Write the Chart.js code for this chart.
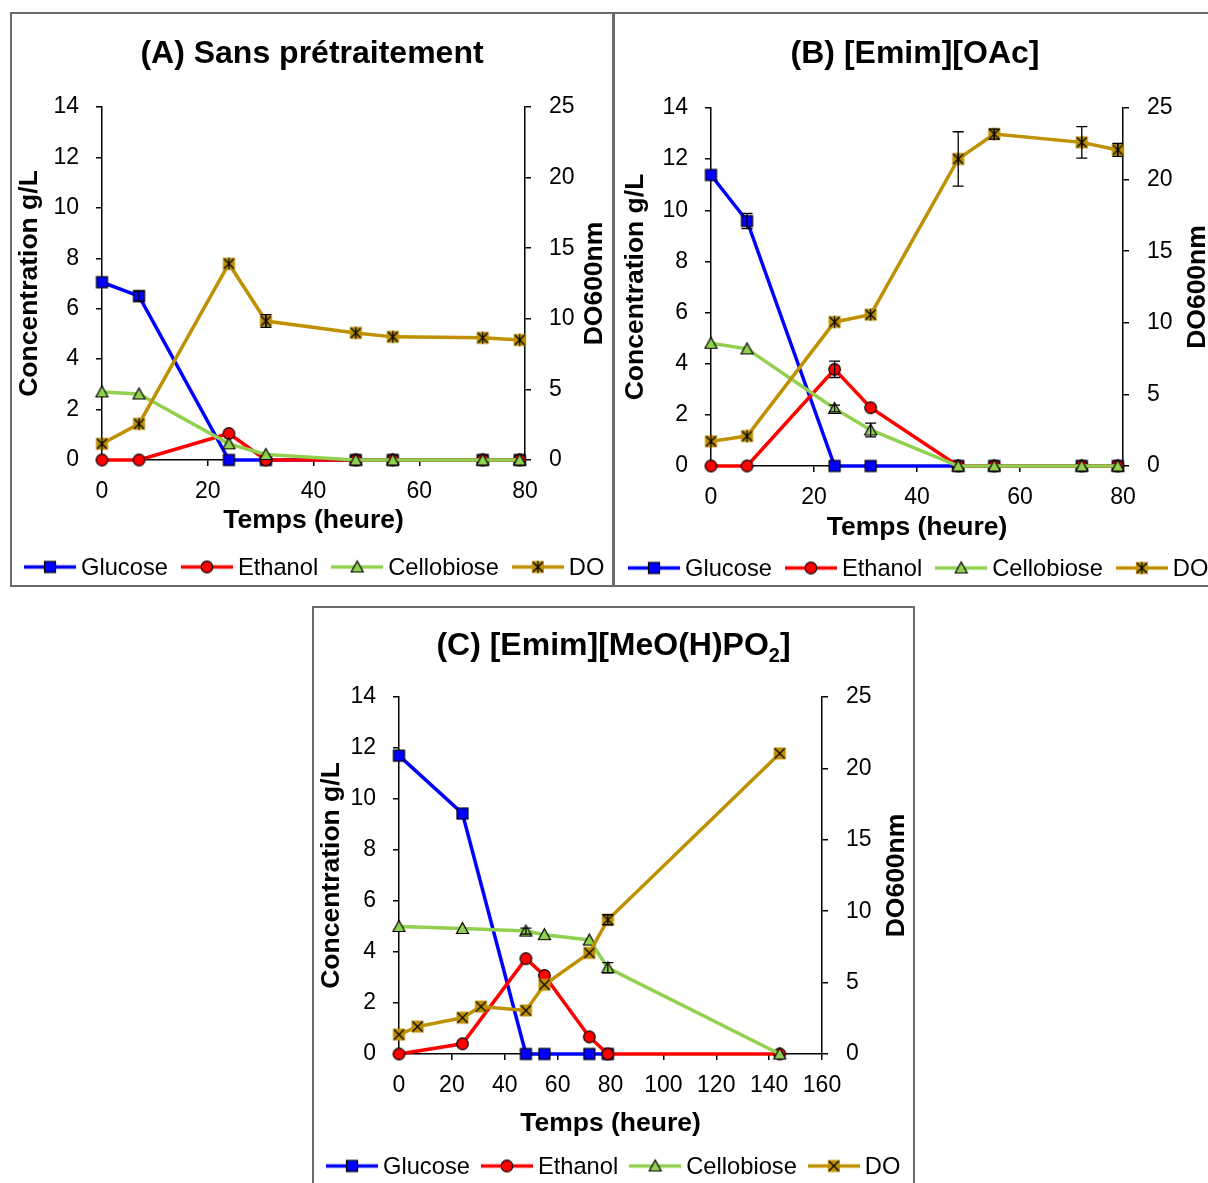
<!DOCTYPE html>
<html>
<head>
<meta charset="utf-8">
<script src="https://cdn.jsdelivr.net/npm/chart.js@4.4.1/dist/chart.umd.min.js"></script>
<style>
html, body { margin: 0; padding: 0; background: #fff; width: 1208px; height: 1183px; overflow: hidden; }
.panel { position: absolute; outline: 2px solid #6a6a6a; outline-offset: -2px; background: #fff; }
.panel canvas { display: block; }
</style>
</head>
<body>
<div class="panel" style="left:10px;top:12px;width:604px;height:575px"><canvas id="cA" width="604" height="575"></canvas></div>
<div class="panel" style="left:613px;top:12px;width:604px;height:575px"><canvas id="cB" width="604" height="575"></canvas></div>
<div class="panel" style="left:312px;top:606px;width:603px;height:580px"><canvas id="cC" width="603" height="580"></canvas></div>
<script>
// ---- data ----
const LABELS = ['Glucose', 'Ethanol', 'Cellobiose', 'DO'];
const COLORS = ['#0000ff', '#ff0000', '#92d050', '#bf9000'];

const TIMES_AB = [0, 7, 24, 31, 48, 55, 72, 79];

// (A) Sans prétraitement
const A_GLUCOSE = [7.05, 6.5, 0, 0, 0, 0, 0, 0];
const A_GLUCOSE_ERR = [0, 0.2, 0, 0, 0, 0, 0, 0];
const A_ETHANOL = [0, 0, 1.05, 0, 0, 0, 0, 0];
const A_CELLOBIOSE = [2.7, 2.62, 0.64, 0.22, 0, 0, 0, 0];
const A_DO = [1.15, 2.56, 13.9, 9.84, 9.0, 8.72, 8.65, 8.5];
const A_DO_ERR = [0, 0, 0, 0.45, 0, 0, 0, 0];

// (B) [Emim][OAc]
const B_GLUCOSE = [11.38, 9.58, 0, 0, 0, 0, 0, 0];
const B_GLUCOSE_ERR = [0, 0.3, 0, 0, 0, 0, 0, 0];
const B_ETHANOL = [0, 0, 3.78, 2.28, 0, 0, 0, 0];
const B_ETHANOL_ERR = [0, 0, 0.32, 0, 0, 0, 0, 0];
const B_CELLOBIOSE = [4.8, 4.58, 2.25, 1.41, 0, 0, 0, 0];
const B_CELLOBIOSE_ERR = [0, 0, 0.13, 0.27, 0, 0, 0, 0];
const B_DO = [1.72, 2.09, 10.06, 10.57, 21.44, 23.18, 22.6, 22.07];
const B_DO_ERR = [0, 0, 0, 0, 1.9, 0.35, 1.1, 0.45];

// (C) [Emim][MeO(H)PO2]
const C_GLUCOSE_T = [0, 24, 48, 55, 72, 79];
const C_GLUCOSE = [11.7, 9.43, 0, 0, 0, 0];
const C_ETHANOL_T = [0, 24, 48, 55, 72, 79, 144];
const C_ETHANOL = [0, 0.4, 3.74, 3.08, 0.67, 0, 0];
const C_CELLOBIOSE_T = [0, 24, 48, 55, 72, 79, 144];
const C_CELLOBIOSE = [5.0, 4.92, 4.82, 4.68, 4.47, 3.38, 0];
const C_CELLOBIOSE_ERR = [0, 0, 0.12, 0, 0, 0.2, 0];
const C_DO_T = [0, 7, 24, 31, 48, 55, 72, 79, 144];
const C_DO = [1.36, 1.92, 2.54, 3.32, 3.05, 4.85, 7.08, 9.4, 21.05];
const C_DO_ERR = [0, 0, 0, 0, 0, 0, 0, 0.35, 0];

const Y_TICKS = [0, 2, 4, 6, 8, 10, 12, 14];
const Y2_TICKS = [0, 5, 10, 15, 20, 25];

const FONT = '"Liberation Sans", Arial, sans-serif';
Chart.defaults.font.family = FONT;
Chart.defaults.color = '#000';

// markers: 0 square, 1 circle, 2 triangle, 3 gold box with cross / star
function markerCanvas(k, doStyle, legend) {
    const w = legend ? 52 : 17, h = 17;
    const c = document.createElement('canvas');
    c.width = w; c.height = h;
    const g = c.getContext('2d');
    const cx = w / 2, cy = h / 2;
    if (legend) {
        g.strokeStyle = COLORS[k];
        g.lineWidth = 3.5;
        g.beginPath(); g.moveTo(0, cy); g.lineTo(w, cy); g.stroke();
    }
    g.strokeStyle = '#000';
    g.lineWidth = 1.2;
    if (k === 0) {
        g.fillStyle = COLORS[0];
        g.fillRect(cx - 5.5, cy - 5.5, 11, 11);
        g.strokeRect(cx - 5.5, cy - 5.5, 11, 11);
    } else if (k === 1) {
        g.fillStyle = COLORS[1];
        g.beginPath(); g.arc(cx, cy, 5.8, 0, Math.PI * 2); g.fill(); g.stroke();
    } else if (k === 2) {
        g.fillStyle = COLORS[2];
        g.beginPath();
        g.moveTo(cx, cy - 6); g.lineTo(cx + 6, cy + 5); g.lineTo(cx - 6, cy + 5);
        g.closePath(); g.fill(); g.stroke();
    } else {
        g.fillStyle = COLORS[3];
        g.fillRect(cx - 6, cy - 6, 12, 12);
        g.lineWidth = 1.2;
        g.beginPath();
        g.moveTo(cx - 5, cy - 5); g.lineTo(cx + 5, cy + 5);
        g.moveTo(cx + 5, cy - 5); g.lineTo(cx - 5, cy + 5);
        if (doStyle === 'star') { g.moveTo(cx, cy - 6); g.lineTo(cx, cy + 6); }
        g.stroke();
    }
    return c;
}

const errorBarsPlugin = {
    id: 'errorBars',
    afterDatasetsDraw(chart) {
        const { ctx } = chart;
        chart.data.datasets.forEach((ds, i) => {
            if (!ds.errors) return;
            const meta = chart.getDatasetMeta(i);
            const yScale = chart.scales[ds.yAxisID];
            ctx.save();
            ctx.strokeStyle = '#000';
            ctx.lineWidth = 1.3;
            meta.data.forEach((pt, j) => {
                const e = ds.errors[j];
                if (!e) return;
                const v = ds.data[j].y;
                const yt = yScale.getPixelForValue(v + e);
                const yb = yScale.getPixelForValue(Math.max(v - e, 0));
                ctx.beginPath();
                ctx.moveTo(pt.x, yt); ctx.lineTo(pt.x, yb);
                ctx.moveTo(pt.x - 5.5, yt); ctx.lineTo(pt.x + 5.5, yt);
                ctx.moveTo(pt.x - 5.5, yb); ctx.lineTo(pt.x + 5.5, yb);
                ctx.stroke();
            });
            ctx.restore();
        });
    }
};

// right axis title reads bottom to top, like the left one
const rightTitlePlugin = {
    id: 'rightTitle',
    afterDraw(chart, args, opts) {
        const { ctx, chartArea } = chart;
        ctx.save();
        ctx.translate(opts.x, (chartArea.top + chartArea.bottom) / 2);
        ctx.rotate(-Math.PI / 2);
        ctx.font = 'bold 26.5px ' + FONT;
        ctx.fillStyle = '#000';
        ctx.textAlign = 'center';
        ctx.textBaseline = 'middle';
        ctx.fillText(opts.text, 0, 0);
        ctx.restore();
    }
};

// title with a subscript part (PO2), only used where needed
const subTitlePlugin = {
    id: 'subTitle',
    afterDraw(chart, args, opts) {
        if (!opts.parts) return;
        const { ctx } = chart;
        const fontFor = p => p.sub ? 'bold 20px ' + FONT : 'bold 32px ' + FONT;
        ctx.save();
        ctx.fillStyle = '#000';
        ctx.textBaseline = 'alphabetic';
        let total = 0;
        opts.parts.forEach(p => { ctx.font = fontFor(p); total += ctx.measureText(p.text).width; });
        let x = chart.width / 2 - total / 2;
        opts.parts.forEach(p => {
            ctx.font = fontFor(p);
            ctx.fillText(p.text, x, opts.baseline + (p.sub ? 7 : 0));
            x += ctx.measureText(p.text).width;
        });
        ctx.restore();
    }
};

// Excel-style legend: line with marker, then label, all on one row
const lineLegendPlugin = {
    id: 'lineLegend',
    afterDraw(chart, args, opts) {
        const { ctx } = chart;
        ctx.save();
        ctx.font = opts.size + 'px ' + FONT;
        ctx.fillStyle = '#000';
        ctx.textBaseline = 'middle';
        let x = opts.x;
        LABELS.forEach((text, k) => {
            const img = markerCanvas(k, opts.doStyle, true);
            ctx.drawImage(img, x, opts.y - img.height / 2);
            x += img.width + opts.gapIn;
            ctx.fillText(text, x, opts.y + 1);
            x += ctx.measureText(text).width + opts.gapOut;
        });
        ctx.restore();
    }
};

function series(times, values, errors) {
    return { times, values, errors };
}

const PANELS = [
    {
        id: 'cA', title: '(A) Sans prétraitement', doStyle: 'star', xMax: 80,
        left: 92, right: 89, titlePad: { top: 22.8, bottom: 33.8 }, topPad: 0, bottomPad: 50.5,
        xHeight: 76.5, xTitlePad: 14.5, yTitlePad: 19, y2TitleX: 585,
        legend: { x: 14, y: 555, gapIn: 5, gapOut: 13 },
        series: [
            series(TIMES_AB, A_GLUCOSE, A_GLUCOSE_ERR),
            series(TIMES_AB, A_ETHANOL),
            series(TIMES_AB, A_CELLOBIOSE),
            series(TIMES_AB, A_DO, A_DO_ERR)
        ]
    },
    {
        id: 'cB', title: '(B) [Emim][OAc]', doStyle: 'star', xMax: 80,
        left: 98, right: 94, titlePad: { top: 22.8, bottom: 34.8 }, topPad: 0, bottomPad: 50.5,
        xHeight: 70.5, xTitlePad: 7.5, yTitlePad: 22, y2TitleX: 585,
        legend: { x: 15, y: 556, gapIn: 5, gapOut: 13 },
        series: [
            series(TIMES_AB, B_GLUCOSE, B_GLUCOSE_ERR),
            series(TIMES_AB, B_ETHANOL, B_ETHANOL_ERR),
            series(TIMES_AB, B_CELLOBIOSE, B_CELLOBIOSE_ERR),
            series(TIMES_AB, B_DO, B_DO_ERR)
        ]
    },
    {
        id: 'cC', title: null, doStyle: 'cross', xMax: 160,
        titleParts: [{ text: '(C) [Emim][MeO(H)PO' }, { text: '2', sub: true }, { text: ']' }],
        titleBaseline: 49,
        left: 87, right: 93, titlePad: { top: 0, bottom: 0 }, topPad: 91, bottomPad: 50.5,
        xHeight: 81.5, xTitlePad: 10.5, yTitlePad: 19, y2TitleX: 585,
        legend: { x: 14, y: 560, gapIn: 5, gapOut: 11 },
        series: [
            series(C_GLUCOSE_T, C_GLUCOSE),
            series(C_ETHANOL_T, C_ETHANOL),
            series(C_CELLOBIOSE_T, C_CELLOBIOSE, C_CELLOBIOSE_ERR),
            series(C_DO_T, C_DO, C_DO_ERR)
        ]
    }
];

function buildPanel(p) {
    const datasets = p.series.map((s, k) => ({
        label: LABELS[k],
        data: s.times.map((t, j) => ({ x: t, y: s.values[j] })),
        errors: s.errors,
        yAxisID: k === 3 ? 'y2' : 'y',
        borderColor: COLORS[k],
        backgroundColor: COLORS[k],
        borderWidth: 3.5,
        pointStyle: markerCanvas(k, p.doStyle, false),
        pointRadius: 6,
        tension: 0,
        clip: false,
        order: 4 - k
    }));

    const tickFont = { size: 23 };
    const axisTitleFont = { size: 26.5, weight: 'bold', lineHeight: '2px' };
    const axisBorder = { display: true, color: '#000', width: 1.5 };
    const grid = { drawOnChartArea: false, drawTicks: true, tickLength: 6, color: '#000', lineWidth: 1.5 };

    new Chart(document.getElementById(p.id), {
        type: 'line',
        data: { datasets },
        options: {
            responsive: false,
            animation: false,
            events: [],
            layout: { padding: { left: 0, right: 0, top: p.topPad, bottom: p.bottomPad } },
            scales: {
                x: {
                    type: 'linear', min: 0, max: p.xMax,
                    ticks: { stepSize: 20, font: tickFont, padding: 12, maxRotation: 0 },
                    grid, border: axisBorder,
                    title: { display: true, text: 'Temps (heure)', font: axisTitleFont, padding: { top: 0, bottom: p.xTitlePad } },
                    afterFit(scale) { scale.height = p.xHeight; }
                },
                y: {
                    type: 'linear', position: 'left', min: 0, max: 14,
                    afterBuildTicks(scale) { scale.ticks = Y_TICKS.map(v => ({ value: v })); },
                    ticks: { font: tickFont, padding: 17 },
                    grid, border: axisBorder,
                    title: { display: true, text: 'Concentration g/L', font: axisTitleFont, padding: { top: p.yTitlePad, bottom: 0 } },
                    afterFit(scale) { scale.width = p.left; }
                },
                y2: {
                    type: 'linear', position: 'right', min: 0, max: 25,
                    afterBuildTicks(scale) { scale.ticks = Y2_TICKS.map(v => ({ value: v })); },
                    ticks: { font: tickFont, padding: 18 },
                    grid, border: axisBorder,
                    afterFit(scale) { scale.width = p.right; }
                }
            },
            plugins: {
                title: {
                    display: !!p.title, text: p.title || '', color: '#000',
                    font: { size: 32, weight: 'bold', lineHeight: 1.2 },
                    padding: p.titlePad
                },
                legend: { display: false },
                tooltip: { enabled: false },
                subTitle: { parts: p.titleParts || null, baseline: p.titleBaseline || 0 },
                rightTitle: { x: p.y2TitleX, text: 'DO600nm' },
                lineLegend: Object.assign({ size: 23.7, doStyle: p.doStyle }, p.legend)
            }
        },
        plugins: [errorBarsPlugin, rightTitlePlugin, subTitlePlugin, lineLegendPlugin]
    });
}

PANELS.forEach(buildPanel);
</script>
</body>
</html>
